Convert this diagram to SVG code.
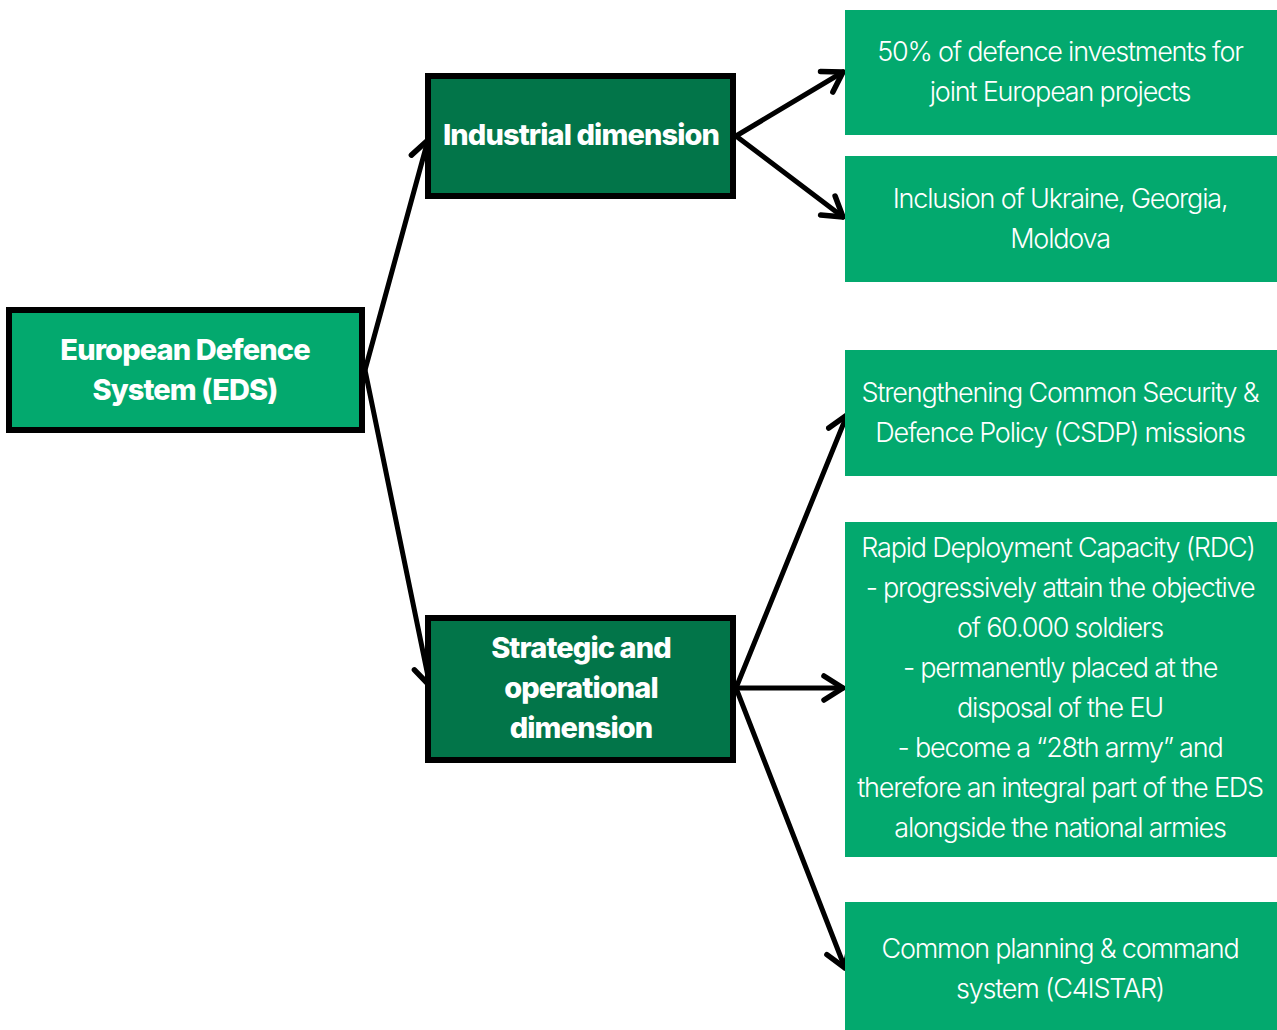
<svg xmlns="http://www.w3.org/2000/svg" width="1277" height="1030" viewBox="0 0 1277 1030">
<style>
.lt{fill:#03A96E}
.dk{fill:#027549}
.bd{stroke:#000;stroke-width:6}
.tb{font-family:Inter,"Liberation Sans",sans-serif;font-weight:800;font-size:29px;fill:#fff;text-anchor:middle;letter-spacing:-0.9px}
.tl{font-family:Inter,"Liberation Sans",sans-serif;font-weight:300;font-size:27px;fill:#fff;text-anchor:middle;letter-spacing:-1.2px}
.c{fill:none;stroke:#000;stroke-width:5;stroke-linecap:round;stroke-linejoin:round}
</style>
<defs>
<marker id="a" viewBox="-24 -15 28 30" refX="0" refY="0" markerWidth="28" markerHeight="30" markerUnits="userSpaceOnUse" orient="auto">
<path d="M-19,-12 L0,0 L-19,12" fill="none" stroke="#000" stroke-width="5.5" stroke-linecap="round" stroke-linejoin="round"/>
</marker>
</defs>
<g id="connectors">
<path class="c" d="M365,370 L428,140" marker-end="url(#a)"/>
<path class="c" d="M365,370 L430,686" marker-end="url(#a)"/>
<path class="c" d="M736,136 L843,72" marker-end="url(#a)"/>
<path class="c" d="M736,136 L843,217" marker-end="url(#a)"/>
<path class="c" d="M736,688 L847,415" marker-end="url(#a)"/>
<path class="c" d="M736,688 L843,688" marker-end="url(#a)"/>
<path class="c" d="M736,688 L845,968" marker-end="url(#a)"/>
</g>
<g id="eds">
<rect class="lt bd" x="9" y="310" width="353" height="120"/>
<text class="tb" x="185" y="360">European Defence</text>
<text class="tb" x="185" y="400">System (EDS)</text>
</g>
<g id="industrial">
<rect class="dk bd" x="428" y="76" width="305" height="120"/>
<text class="tb" x="581" y="145">Industrial dimension</text>
</g>
<g id="strategic">
<rect class="dk bd" x="428" y="618" width="305" height="142"/>
<text class="tb" x="581" y="658">Strategic and</text>
<text class="tb" x="581" y="698">operational</text>
<text class="tb" x="581" y="738">dimension</text>
</g>
<g id="invest">
<rect class="lt" x="845" y="10" width="432" height="125"/>
<text class="tl" x="1060" y="61">50% of defence investments for</text>
<text class="tl" x="1060" y="101">joint European projects</text>
</g>
<g id="inclusion">
<rect class="lt" x="845" y="156" width="432" height="126"/>
<text class="tl" x="1060" y="208">Inclusion of Ukraine, Georgia,</text>
<text class="tl" x="1060" y="248">Moldova</text>
</g>
<g id="csdp">
<rect class="lt" x="845" y="350" width="432" height="126"/>
<text class="tl" x="1060" y="402">Strengthening Common Security &amp;</text>
<text class="tl" x="1060" y="442">Defence Policy (CSDP) missions</text>
</g>
<g id="rdc">
<rect class="lt" x="845" y="522" width="432" height="335"/>
<text class="tl" x="1058" y="557">Rapid Deployment Capacity (RDC)</text>
<text class="tl" x="1060" y="597">- progressively attain the objective</text>
<text class="tl" x="1060" y="637">of 60.000 soldiers</text>
<text class="tl" x="1060" y="677">- permanently placed at the</text>
<text class="tl" x="1060" y="717">disposal of the EU</text>
<text class="tl" x="1060" y="757">- become a “28th army” and</text>
<text class="tl" x="1060" y="797">therefore an integral part of the EDS</text>
<text class="tl" x="1060" y="837">alongside the national armies</text>
</g>
<g id="c4istar">
<rect class="lt" x="845" y="902" width="432" height="128"/>
<text class="tl" x="1060" y="958">Common planning &amp; command</text>
<text class="tl" x="1060" y="998">system (C4ISTAR)</text>
</g>
</svg>
